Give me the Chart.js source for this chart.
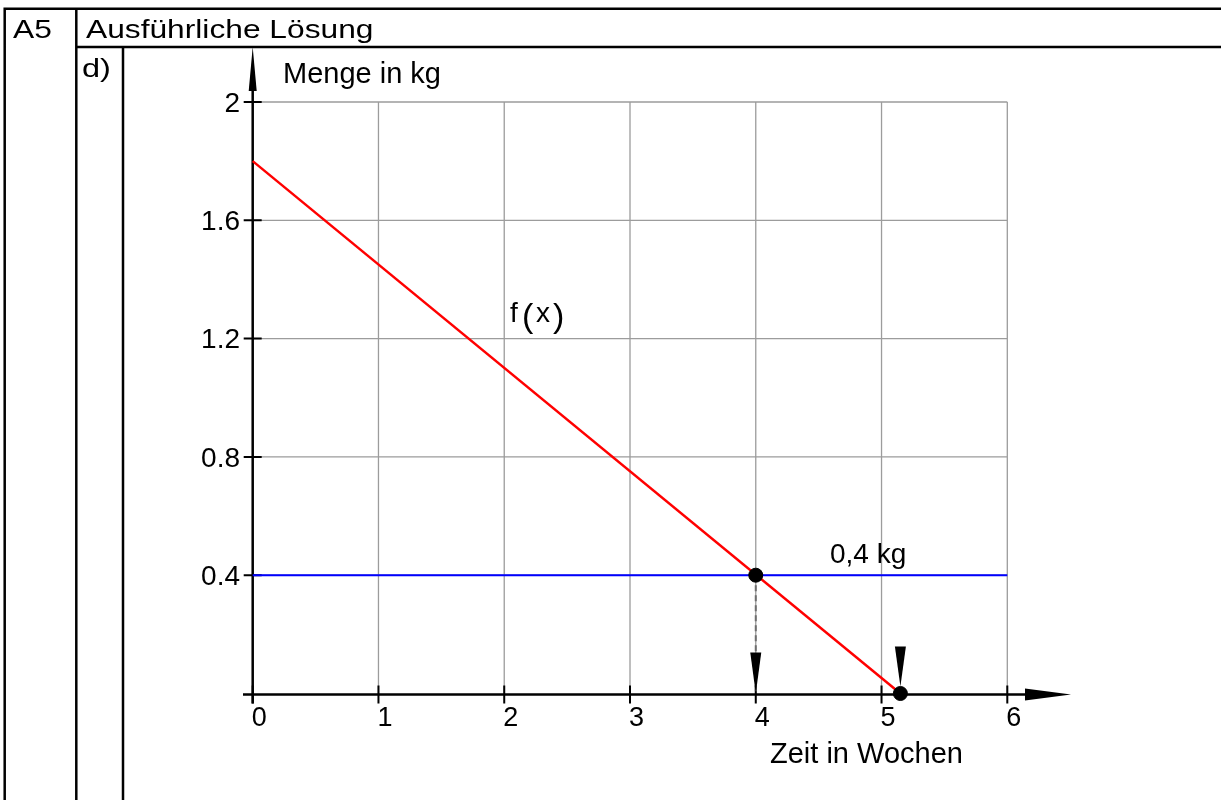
<!DOCTYPE html>
<html>
<head>
<meta charset="utf-8">
<script src="https://cdn.jsdelivr.net/npm/chart.js@4.4.1/dist/chart.umd.min.js"></script>
<style>
  html, body { margin: 0; padding: 0; background: #fff; }
  #wrap { width: 1221px; height: 800px; }
</style>
</head>
<body>
<div id="wrap"><canvas id="chart" width="1221" height="800"></canvas></div>
<script>
// DATA
var weekTicks = [0, 1, 2, 3, 4, 5, 6];
var mengeTicks = [0.4, 0.8, 1.2, 1.6, 2];
var fX = [0, 5.15];
var fY = [1.8, 0];
var levelX = [0, 6];
var levelY = [0.4, 0.4];
var dropX = [4, 4];
var dropY = [0.4, 0];
var pointX = [4, 5.15];
var pointY = [0.4, 0];

function toXY(xs, ys) {
	var out = [];
	for (var i = 0; i < xs.length; i++) {
		out.push({ x: xs[i], y: ys[i] });
	}
	return out;
}

var FONT = '"Liberation Sans", Arial, sans-serif';

function stretchText(ctx, txt, x, y, sx) {
	ctx.save();
	ctx.translate(x, y);
	ctx.scale(sx, 1);
	ctx.fillText(txt, 0, 0);
	ctx.restore();
}

function tri(ctx, ax, ay, bx, by, cx, cy) {
	ctx.beginPath();
	ctx.moveTo(ax, ay);
	ctx.lineTo(bx, by);
	ctx.lineTo(cx, cy);
	ctx.closePath();
	ctx.fill();
}

// BACKGROUND: TABLE, GRID, AXES, TICK LABELS
var backPlugin = {
	id: 'backPlugin',
	beforeDatasetsDraw: function(chart) {
		var ctx = chart.ctx;
		var xs = chart.scales.x, ys = chart.scales.y;
		var x0 = xs.getPixelForValue(0), y0 = ys.getPixelForValue(0);
		var xMax = xs.getPixelForValue(6), yMax = ys.getPixelForValue(2);
		ctx.save();

		// table
		ctx.strokeStyle = '#000';
		ctx.lineWidth = 2.5;
		ctx.beginPath();
		ctx.moveTo(4.7, 800); ctx.lineTo(4.7, 8.8); ctx.lineTo(1221, 8.8);
		ctx.moveTo(76.3, 8.8); ctx.lineTo(76.3, 800);
		ctx.moveTo(76.3, 47); ctx.lineTo(1221, 47);
		ctx.moveTo(123, 47); ctx.lineTo(123, 800);
		ctx.stroke();

		ctx.fillStyle = '#000';
		ctx.textAlign = 'left';
		ctx.textBaseline = 'alphabetic';
		ctx.font = '26px ' + FONT;
		stretchText(ctx, 'A5', 13, 37.5, 1.22);
		stretchText(ctx, 'Ausführliche Lösung', 86, 37.5, 1.22);
		stretchText(ctx, 'd)', 82, 77, 1.25);

		// grid
		ctx.strokeStyle = '#9c9c9c';
		ctx.lineWidth = 1.3;
		ctx.beginPath();
		weekTicks.forEach(function(v) {
			if (v === 0) return;
			var px = xs.getPixelForValue(v);
			ctx.moveTo(px, y0); ctx.lineTo(px, yMax);
		});
		mengeTicks.forEach(function(v) {
			var py = ys.getPixelForValue(v);
			ctx.moveTo(x0, py); ctx.lineTo(xMax, py);
		});
		ctx.stroke();

		// axes
		ctx.strokeStyle = '#000';
		ctx.lineWidth = 2.5;
		ctx.beginPath();
		ctx.moveTo(243, y0 + 1); ctx.lineTo(1030, y0 + 1);
		ctx.moveTo(x0, y0 + 10); ctx.lineTo(x0, 88);
		ctx.stroke();
		ctx.fillStyle = '#000';
		tri(ctx, 1071, y0 + 1, 1025, y0 - 5, 1025, y0 + 7);
		tri(ctx, x0, 47, x0 - 4, 91, x0 + 4, 91);

		// tick marks
		ctx.lineWidth = 2;
		ctx.beginPath();
		weekTicks.forEach(function(v) {
			var px = xs.getPixelForValue(v);
			ctx.moveTo(px, y0 - 8); ctx.lineTo(px, y0 + 10);
		});
		mengeTicks.forEach(function(v) {
			var py = ys.getPixelForValue(v);
			ctx.moveTo(x0 - 9, py); ctx.lineTo(x0 + 9, py);
		});
		ctx.stroke();

		// tick labels
		ctx.font = '27px ' + FONT;
		ctx.textAlign = 'left';
		ctx.textBaseline = 'alphabetic';
		weekTicks.forEach(function(v) {
			ctx.fillText(String(v), xs.getPixelForValue(v) - 1, 726);
		});
		ctx.font = '28px ' + FONT;
		ctx.textAlign = 'right';
		ctx.textBaseline = 'middle';
		mengeTicks.forEach(function(v) {
			ctx.fillText(String(v), 240, ys.getPixelForValue(v) + 2);
		});

		// axis titles
		ctx.textAlign = 'left';
		ctx.textBaseline = 'alphabetic';
		ctx.font = '29px ' + FONT;
		ctx.fillText('Menge in kg', 283, 83);
		ctx.fillText('Zeit in Wochen', 770, 763);
		ctx.restore();
	},
	afterDatasetsDraw: function(chart) {
		var ctx = chart.ctx;
		var xs = chart.scales.x, ys = chart.scales.y;
		var y0 = ys.getPixelForValue(0);
		ctx.save();
		ctx.fillStyle = '#000';

		// arrow on dashed drop line
		var dx = xs.getPixelForValue(dropX[1]);
		tri(ctx, dx, y0, dx - 5.5, y0 - 41, dx + 5.5, y0 - 41);

		// arrow above the zero point
		var zx = xs.getPixelForValue(pointX[1]);
		tri(ctx, zx, y0 - 7, zx - 5.5, y0 - 47, zx + 5.5, y0 - 47);

		// labels
		ctx.textAlign = 'left';
		ctx.textBaseline = 'alphabetic';
		ctx.font = '28px ' + FONT;
		ctx.fillText('f', 510, 322);
		ctx.fillText('x', 536, 322);
		ctx.font = '300 34px ' + FONT;
		ctx.fillText('(', 522, 327);
		ctx.fillText(')', 553, 327);
		ctx.font = '28px ' + FONT;
		ctx.fillText('0,4 kg', 830, 563);
		ctx.restore();
	}
};

var ctxMain = document.getElementById('chart').getContext('2d');
var chart = new Chart(ctxMain, {
	type: 'scatter',
	data: {
		datasets: [
			{
				label: 'Punkte',
				data: toXY(pointX, pointY),
				backgroundColor: '#000',
				borderColor: '#000',
				pointRadius: 7,
				showLine: false,
				clip: false,
				order: 0
			},
			{
				label: 'f(x)',
				data: toXY(fX, fY),
				borderColor: '#ff0000',
				borderWidth: 2.5,
				pointRadius: 0,
				showLine: true,
				clip: false,
				order: 1
			},
			{
				label: 'Lot',
				data: toXY(dropX, dropY),
				borderColor: '#6e6e6e',
				borderWidth: 2,
				borderDash: [6, 4],
				pointRadius: 0,
				showLine: true,
				clip: false,
				order: 2
			},
			{
				label: '0,4 kg',
				data: toXY(levelX, levelY),
				borderColor: '#0000ff',
				borderWidth: 2,
				pointRadius: 0,
				showLine: true,
				clip: false,
				order: 3
			}
		]
	},
	options: {
		responsive: false,
		animation: false,
		devicePixelRatio: 1,
		layout: {
			padding: { left: 252.7, right: 213.7, top: 102, bottom: 106.5 }
		},
		scales: {
			x: { type: 'linear', min: 0, max: 6, display: false },
			y: { type: 'linear', min: 0, max: 2, display: false }
		},
		plugins: {
			legend: { display: false },
			tooltip: { enabled: false }
		}
	},
	plugins: [backPlugin]
});
</script>
</body>
</html>
